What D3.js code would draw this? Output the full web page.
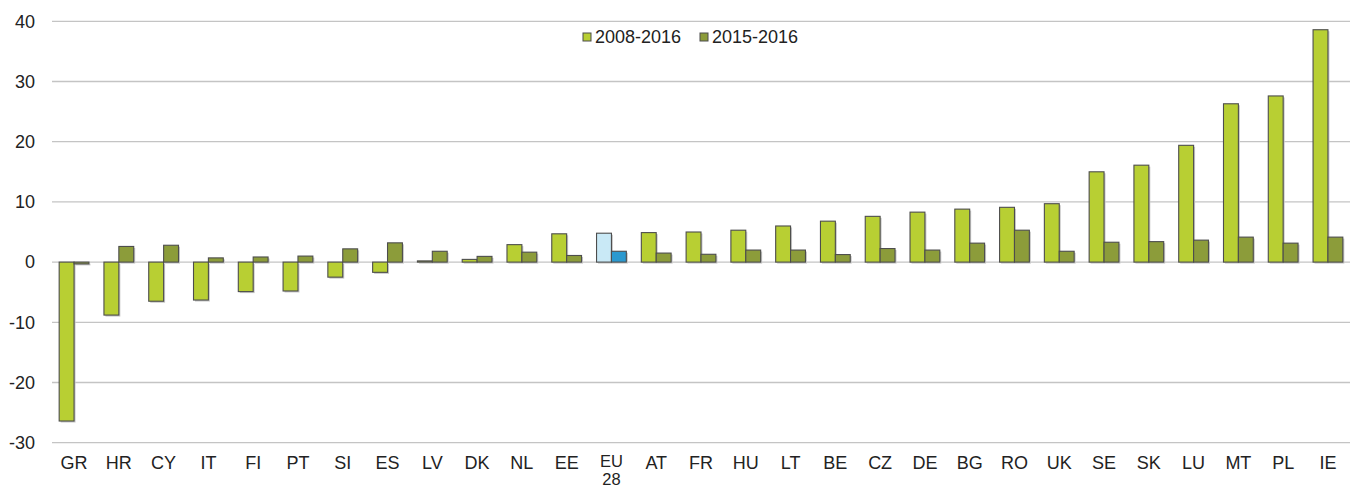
<!DOCTYPE html>
<html>
<head>
<meta charset="utf-8">
<script src="https://cdn.jsdelivr.net/npm/d3@7"></script>
<style>
  body { margin: 0; background: #fff; }
  text { font-family: "Liberation Sans", Arial, sans-serif; fill: #222; }
</style>
</head>
<body>
<svg id="chart"></svg>
<script>
const countries = ["GR","HR","CY","IT","FI","PT","SI","ES","LV","DK","NL","EE","EU28","AT","FR","HU","LT","BE","CZ","DE","BG","RO","UK","SE","SK","LU","MT","PL","IE"];
const change0816 = [-26.4,-8.8,-6.5,-6.3,-4.9,-4.8,-2.5,-1.7,0.2,0.45,2.9,4.7,4.8,4.9,5.0,5.3,6.0,6.8,7.6,8.3,8.8,9.1,9.7,15.0,16.1,19.4,26.3,27.6,38.6];
const change1516 = [-0.3,2.6,2.8,0.7,0.85,1.0,2.2,3.2,1.8,0.95,1.65,1.1,1.8,1.5,1.3,2.0,2.0,1.25,2.25,2.0,3.15,5.3,1.8,3.3,3.4,3.65,4.15,3.15,4.15];
const seriesNames = ["2008-2016", "2015-2016"];
const yTicks = [-30,-20,-10,0,10,20,30,40];

const W = 1357, H = 490;
const margin = { left: 52, right: 7, top: 21.3, bottom: 47.3 };

const svg = d3.select("#chart").attr("width", W).attr("height", H);

const x = d3.scaleBand()
    .domain(countries)
    .range([margin.left, W - margin.right])
    .paddingInner(0.335)
    .paddingOuter(0.16);

const x1 = d3.scaleBand()
    .domain(seriesNames)
    .range([0, x.bandwidth()]);

const y = d3.scaleLinear()
    .domain([-30, 40])
    .range([H - margin.bottom, margin.top]);

const colors = { "2008-2016": "#b8cf33", "2015-2016": "#8c9c3a" };
const euColors = { "2008-2016": "#c9e9f6", "2015-2016": "#2b99cf" };

// gridlines
svg.append("g")
    .selectAll("line")
    .data(yTicks)
    .join("line")
    .attr("x1", margin.left)
    .attr("x2", W - margin.right)
    .attr("y1", d => y(d))
    .attr("y2", d => y(d))
    .attr("stroke", "#c4c4c4")
    .attr("stroke-width", 1.3);

// y labels
svg.append("g")
    .selectAll("text")
    .data(yTicks)
    .join("text")
    .attr("x", 35)
    .attr("y", d => y(d))
    .attr("dy", "0.35em")
    .attr("text-anchor", "end")
    .attr("font-size", 18)
    .text(d => d);

// bars
const rows = countries.map((c, i) => ({ c, vals: [change0816[i], change1516[i]] }));

const groups = svg.append("g")
    .selectAll("g")
    .data(rows)
    .join("g")
    .attr("transform", d => `translate(${x(d.c)},0)`);

const barData = d => d.vals.map((v, j) => ({ c: d.c, s: seriesNames[j], v }));

// soft shadow
groups.selectAll("rect.shadow")
    .data(barData)
    .join("rect")
    .attr("class", "shadow")
    .attr("x", d => x1(d.s) + 1.5)
    .attr("y", d => Math.min(y(d.v), y(0)) + 1.5)
    .attr("width", x1.bandwidth())
    .attr("height", d => Math.abs(y(d.v) - y(0)))
    .attr("fill", "#c8c8c8");

groups.selectAll("rect.bar")
    .data(barData)
    .join("rect")
    .attr("class", "bar")
    .attr("x", d => x1(d.s))
    .attr("y", d => Math.min(y(d.v), y(0)))
    .attr("width", x1.bandwidth())
    .attr("height", d => Math.abs(y(d.v) - y(0)))
    .attr("fill", d => d.c === "EU28" ? euColors[d.s] : colors[d.s])
    .attr("stroke", "#4d4d4d")
    .attr("stroke-width", 1.1);

// x labels (EU28 split on two lines as separate texts)
const labelLines = d => d === "EU28" ? ["EU", "28"] : [d];
svg.append("g")
    .selectAll("g")
    .data(countries)
    .join("g")
    .each(function (d) {
        const lines = labelLines(d);
        d3.select(this).selectAll("text")
            .data(lines)
            .join("text")
            .attr("x", x(d) + x.bandwidth() / 2)
            .attr("y", (t, i) => i === 0 ? (lines.length > 1 ? 467 : 469) : 485)
            .attr("text-anchor", "middle")
            .attr("font-size", lines.length > 1 ? 16.5 : 18)
            .text(t => t);
    });

// legend
const legendPos = [583, 700];
const legend = svg.append("g")
    .selectAll("g")
    .data(seriesNames)
    .join("g")
    .attr("transform", (d, i) => `translate(${legendPos[i]},33)`);

legend.append("rect")
    .attr("width", 8)
    .attr("height", 8)
    .attr("fill", d => colors[d])
    .attr("stroke", "#4d4d4d")
    .attr("stroke-width", 1);

legend.append("text")
    .attr("x", 12)
    .attr("y", 4)
    .attr("dy", "0.35em")
    .attr("font-size", 18)
    .text(d => d);
</script>
</body>
</html>
